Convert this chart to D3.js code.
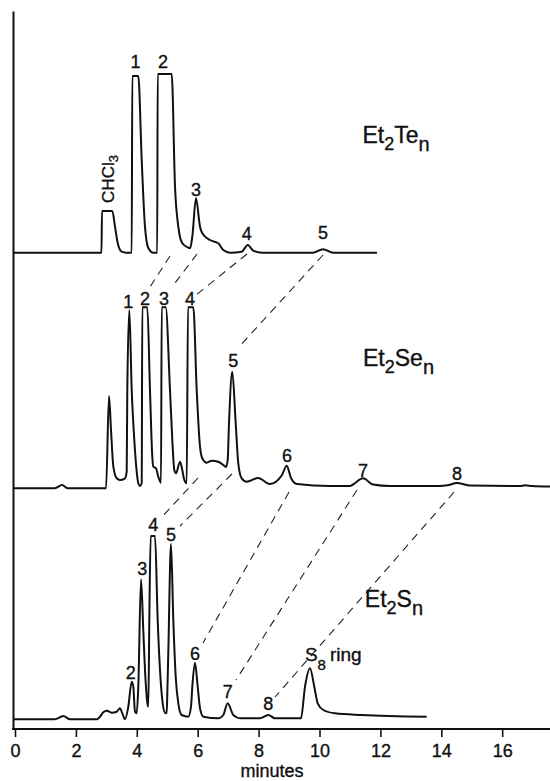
<!DOCTYPE html>
<html>
<head>
<meta charset="utf-8">
<script src="https://cdnjs.cloudflare.com/ajax/libs/d3/7.8.5/d3.min.js"></script>
<style>
  body { margin: 0; background: #fff; }
  text { font-family: "Liberation Sans", Arial, sans-serif; fill: #111; stroke: #111; stroke-width: 0.35px; }
</style>
</head>
<body>
<div id="chart"></div>
<script>

// Chart data (time in minutes, signal in arbitrary detector units above each baseline)
var tickMinutes = [0, 2, 4, 6, 8, 10, 12, 14, 16];

// baseline offset of each trace: Te, Se, S
var baselines = [47.63, 24.07, 0.97];

var teTrace = [[-0.05,0],[2.84,0],[2.857,4.17],[3.195,4.17],[3.284,2.6],[3.373,0.97],[3.504,0.1],
  [3.65,0],[3.833,0],[3.852,17.67],[4.049,17.67],[4.161,9.27],[4.269,2.6],[4.378,0.47],[4.542,0],
  [4.67,0],[4.686,17.87],[5.146,17.87],[5.255,6.6],[5.363,2.6],[5.494,0.94],[5.691,0.5],[5.75,0.45],
  [5.823,1.6],[5.944,5.44],[6.076,2.6],[6.151,1.94],[6.404,1.27],[6.677,0.94],[6.841,0.27],[7.061,0],
  [7.445,0.1],[7.642,0.77],[7.826,0.2],[8.112,0],[9.787,0],[10.115,0.35],[10.443,0],[11.888,0]];

var seTrace = [[-0.05,0],[1.31,0],[1.543,0.33],[1.74,0],[2.99,0],[3.087,9.23],[3.153,5.83],[3.23,2.16],
  [3.34,1.0],[3.448,0.83],[3.612,1.0],[3.668,1.66],[3.688,9.83],[3.754,17.83],[3.833,9.83],[3.918,4.83],
  [3.997,1.66],[4.049,0.5],[4.105,0.23],[4.161,0.5],[4.181,18.1],[4.345,18.1],[4.433,9.83],[4.509,3.16],
  [4.542,2.16],[4.631,2.0],[4.706,1.16],[4.795,0.56],[4.818,18.1],[4.949,18.1],[5.09,9.83],[5.166,4.83],
  [5.232,1.83],[5.287,1.5],[5.419,2.66],[5.494,1.83],[5.56,0.83],[5.639,0.5],[5.681,18.1],[5.856,18.1],
  [5.967,9.83],[6.076,4.16],[6.151,3.0],[6.296,2.56],[6.46,2.76],[6.677,2.66],[6.841,2.33],[6.93,2.13],
  [6.985,2.83],[7.028,6.5],[7.136,11.66],[7.248,6.5],[7.333,2.5],[7.445,1.0],[7.609,0.66],[7.98,1.03],
  [8.374,0.43],[8.768,1.33],[8.923,2.26],[9.064,1.03],[9.261,0.43],[10.345,0.23],[11.0,0.23],[11.1,0.38],
  [11.429,1.0],[11.757,0.38],[12.315,0.23],[13.957,0.23],[14.2,0.3],[14.516,0.53],[14.943,0.28],
  [16.585,0.23],[16.75,0.3],[16.98,0.23],[17.57,0.18]];

var sTrace = [[-0.05,0],[1.31,0],[1.587,0.33],[1.806,0],[2.69,0],[2.791,0.26],[2.9,0.7],[3.011,0.86],
  [3.176,0.66],[3.34,0.76],[3.448,1.1],[3.524,0.6],[3.612,0],[3.721,1.26],[3.833,3.76],[3.885,3.26],
  [3.941,0.76],[3.997,0.6],[4.049,3.26],[4.138,14.0],[4.213,8.93],[4.269,4.93],[4.358,1.43],[4.378,1.26],
  [4.411,9.93],[4.456,18.33],[4.598,18.33],[4.686,9.93],[4.762,4.93],[4.837,1.93],[4.926,0.66],[4.982,0.6],
  [5.002,2.6],[5.034,6.6],[5.123,17.53],[5.199,9.93],[5.278,4.26],[5.363,1.6],[5.474,0.43],[5.691,0.26],
  [5.78,1.26],[5.823,3.26],[5.911,5.66],[6.0,3.26],[6.076,1.1],[6.184,0.26],[6.677,0.1],[6.841,0.43],
  [6.985,1.6],[7.169,0.43],[7.389,0.1],[8.046,0.1],[8.319,0.43],[8.539,0.1],[9.392,0.1],[9.524,3.26],
  [9.688,5.1],[9.829,3.26],[9.941,1.6],[10.125,0.93],[10.509,0.6],[11.386,0.43],[13.52,0.26]];

// peak numbers: [label, minutes, height of text baseline]
var teLabels = [["1",3.957,18.47],["2",4.86,18.47],["3",5.944,5.67],["4",7.61,1.27],["5",10.115,1.37]];
var seLabels = [["1",3.72,18.03],["2",4.27,18.33],["3",4.893,18.33],["4",5.747,18.33],["5",7.169,12.16],
  ["6",8.93,2.63],["7",11.43,1.18],["8",14.52,0.83]];
var sLabels = [["2",3.8,4.03],["3",4.18,14.43],["4",4.54,18.83],["5",5.123,17.83],["6",5.911,5.93],
  ["7",6.985,2.13],["8",8.32,0.93]];

// compound names: [main, sub, main, sub, minutes, height]
var seriesNames = [["Et","2","Te","n",11.41,10.94],["Et","2","Se","n",11.43,12.26],["Et","2","S","n",11.49,11.26]];

// dashed lines joining the same n between traces: [trace, minutes, height] -> [trace, minutes, height]
var connectors = [
  [[0,5.09,-0.33],[1,4.368,19.83]],
  [[0,5.977,-0.13],[1,5.156,20.13]],
  [[0,7.619,-0.13],[1,5.944,19.33]],
  [[0,10.115,-0.23],[1,7.323,14.03]],
  [[1,6.01,1.03],[2,4.762,20.03]],
  [[1,7.126,1.43],[2,5.419,19.33]],
  [[1,9.0,-0.37],[2,6.174,7.63]],
  [[1,11.23,-0.17],[2,7.258,3.93]],
  [[1,14.42,-0.37],[2,8.539,2.23]]
];

// --> CREATE SVG DRAWING AREA
var width = 550,
    height = 781;

var svg = d3.select("#chart").append("svg")
        .attr("width", width)
        .attr("height", height);

var xScale = d3.scaleLinear()
    .domain([0, 17.57])
    .range([15, 550]);

var yScale = d3.scaleLinear()
    .domain([0, 71.8])
    .range([729, 11]);

function yPos(trace, h) {
  return yScale(baselines[trace] + h);
}

// Axes
svg.append("g")
    .attr("transform", "translate(13,0)")
    .call(d3.axisLeft(yScale).tickValues([]).tickSizeOuter(0))
    .select(".domain")
    .attr("stroke", "#111")
    .attr("stroke-width", 2);

var xAxis = svg.append("g")
    .attr("transform", "translate(0," + yScale(0) + ")")
    .call(d3.axisBottom(xScale)
        .tickValues(tickMinutes)
        .tickSize(8)
        .tickPadding(7.5)
        .tickSizeOuter(0)
        .tickFormat(d3.format("d")));

xAxis.select(".domain").remove();
xAxis.selectAll(".tick line")
    .attr("stroke", "#111")
    .attr("stroke-width", 1.6);
xAxis.selectAll(".tick text")
    .attr("font-size", 18)
    .attr("font-family", "'Liberation Sans', Arial, sans-serif")
    .attr("fill", "#111");

svg.append("line")
    .attr("x1", 12)
    .attr("x2", xScale.range()[1])
    .attr("y1", yScale(0))
    .attr("y2", yScale(0))
    .attr("stroke", "#111")
    .attr("stroke-width", 2);

svg.append("text")
    .attr("x", 272)
    .attr("y", 777)
    .attr("text-anchor", "middle")
    .attr("font-size", 18)
    .text("minutes");

// Dashed connectors
svg.selectAll(".connector")
    .data(connectors)
    .enter().append("line")
    .attr("class", "connector")
    .attr("x1", function(d) { return xScale(d[0][1]); })
    .attr("y1", function(d) { return yPos(d[0][0], d[0][2]); })
    .attr("x2", function(d) { return xScale(d[1][1]); })
    .attr("y2", function(d) { return yPos(d[1][0], d[1][2]); })
    .attr("stroke", "#222")
    .attr("stroke-width", 1.1)
    .attr("stroke-dasharray", "8,6");

// Chromatogram traces
var traces = [teTrace, seTrace, sTrace];

traces.forEach(function(trace, i) {
  var line = d3.line()
      .x(function(d) { return xScale(d[0]); })
      .y(function(d) { return yPos(i, d[1]); })
      .curve(d3.curveMonotoneX);

  svg.append("path")
      .datum(trace)
      .attr("class", "trace")
      .attr("d", line)
      .attr("fill", "none")
      .attr("stroke", "#111")
      .attr("stroke-width", 2)
      .attr("stroke-linejoin", "round");
});

// Peak numbers
[teLabels, seLabels, sLabels].forEach(function(labels, i) {
  svg.selectAll(".peak-label-" + i)
      .data(labels)
      .enter().append("text")
      .attr("class", "peak-label-" + i)
      .attr("x", function(d) { return xScale(d[1]); })
      .attr("y", function(d) { return yPos(i, d[2]); })
      .attr("text-anchor", "middle")
      .attr("font-size", 18)
      .text(function(d) { return d[0]; });
});

// CHCl3 solvent peak, written upwards
var chcl3 = svg.append("text")
    .attr("transform", "translate(" + xScale(3.25) + "," + yPos(0, 7.37) + ") rotate(-90)")
    .attr("text-anchor", "middle")
    .attr("font-size", 17);
chcl3.append("tspan").text("CHCl");
chcl3.append("tspan").attr("font-size", 13).attr("dy", 4).text("3");

// S8 ring
var s8 = svg.append("text")
    .attr("x", xScale(9.52))
    .attr("y", yPos(2, 5.83))
    .attr("font-size", 19);
s8.append("tspan").text("S");
s8.append("tspan").attr("font-size", 15).attr("dy", 9).text("8");
s8.append("tspan").attr("dy", -9).attr("dx", 4).text("ring");

// Compound names with subscripts
seriesNames.forEach(function(d, i) {
  var name = svg.append("text")
      .attr("x", xScale(d[4]))
      .attr("y", yPos(i, d[5]))
      .attr("font-size", 23);
  name.append("tspan").text(d[0]);
  name.append("tspan").attr("font-size", 18).attr("dy", 7).text(d[1]);
  name.append("tspan").attr("dy", -7).text(d[2]);
  name.append("tspan").attr("font-size", 20).attr("dy", 8).text(d[3]);
});

</script>
</body>
</html>
